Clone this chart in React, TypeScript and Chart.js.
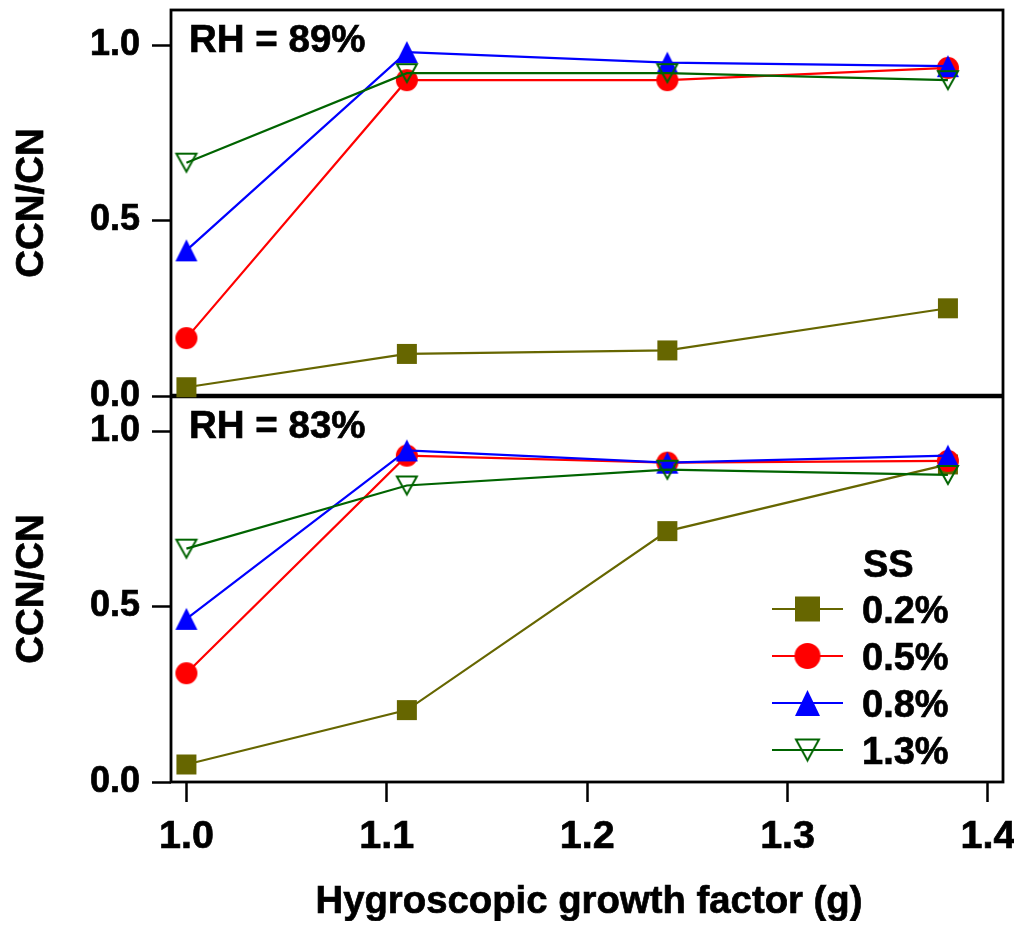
import React, { useEffect, useRef } from 'react';
import { Chart, registerables } from 'chart.js';

Chart.register(...registerables);

// Hygroscopic growth factor of the sampled particles
const growthFactor = [1.0, 1.11, 1.24, 1.38];

// Supersaturation levels
const ssLevels = ['0.2%', '0.5%', '0.8%', '1.3%'];

// CCN/CN activated fraction at RH = 89%
const rh89Ss02 = [0.025, 0.12, 0.13, 0.25];
const rh89Ss05 = [0.165, 0.9, 0.9, 0.935];
const rh89Ss08 = [0.415, 0.98, 0.95, 0.94];
const rh89Ss13 = [0.665, 0.92, 0.92, 0.9];

// CCN/CN activated fraction at RH = 83%
const rh83Ss02 = [0.05, 0.205, 0.715, 0.905];
const rh83Ss05 = [0.31, 0.93, 0.91, 0.915];
const rh83Ss08 = [0.465, 0.945, 0.91, 0.93];
const rh83Ss13 = [0.665, 0.845, 0.89, 0.875];

const panelLabels = ['RH = 89%', 'RH = 83%'];
const xTickValues = [1.0, 1.1, 1.2, 1.3, 1.4];
const yTickValues = [0, 0.5, 1.0];

const X_TITLE = 'Hygroscopic growth factor (g)';
const Y_TITLE = 'CCN/CN';
const LEGEND_TITLE = 'SS';

const W = 1006;
const H = 913;
const FONT = "'Liberation Sans', Arial, Helvetica, sans-serif";
const TEXT_STROKE = 0.7;
const X_TITLE_INK_WIDTH = 544;

const seriesColors = ['#666600', '#ff0000', '#0000ff', '#006400'];
const seriesShapes = ['square', 'circle', 'triangle', 'triangleDown'];

function makeMarker(shape: string, w: number, h: number, color: string): HTMLCanvasElement {
  const pad = 2;
  const c = document.createElement('canvas');
  c.width = w + pad * 2;
  c.height = h + pad * 2;
  const g = c.getContext('2d') as CanvasRenderingContext2D;
  g.translate(pad, pad);
  g.fillStyle = color;
  g.strokeStyle = color;
  g.lineWidth = 2;
  g.lineJoin = 'miter';
  if (shape === 'square') {
    g.fillRect(0, 0, w, h);
  } else if (shape === 'circle') {
    g.beginPath();
    g.ellipse(w / 2, h / 2, w / 2, h / 2, 0, 0, Math.PI * 2);
    g.fill();
  } else if (shape === 'triangle') {
    g.beginPath();
    g.moveTo(w / 2, 0);
    g.lineTo(w, h);
    g.lineTo(0, h);
    g.closePath();
    g.fill();
  } else {
    g.beginPath();
    g.moveTo(1, 1);
    g.lineTo(w - 1, 1);
    g.lineTo(w / 2, h - 1);
    g.closePath();
    g.stroke();
  }
  return c;
}

const chartMarkerSize: Record<string, [number, number]> = {
  square: [20, 20],
  circle: [22, 22],
  triangle: [22, 22],
  triangleDown: [22, 20],
};
const legendMarkerSize: Record<string, [number, number]> = {
  square: [25, 25],
  circle: [26, 26],
  triangle: [25, 26],
  triangleDown: [25, 23],
};

// filled text with a thin outline of the same colour for a heavier weight
function boldText(ctx: CanvasRenderingContext2D, text: string, x: number, y: number) {
  ctx.fillText(text, x, y);
  ctx.lineWidth = TEXT_STROKE;
  ctx.strokeStyle = '#000';
  ctx.strokeText(text, x, y);
}

export default function App() {
  const ref = useRef<HTMLCanvasElement>(null);

  useEffect(() => {
    const canvas = ref.current;
    if (!canvas) return;

    const chartMarkers = seriesShapes.map((s, i) =>
      makeMarker(s, chartMarkerSize[s][0], chartMarkerSize[s][1], seriesColors[i])
    );
    const legendMarkers = seriesShapes.map((s, i) =>
      makeMarker(s, legendMarkerSize[s][0], legendMarkerSize[s][1], seriesColors[i])
    );

    const panels: { axis: string; series: number[][] }[] = [
      { axis: 'yTop', series: [rh89Ss02, rh89Ss05, rh89Ss08, rh89Ss13] },
      { axis: 'yBot', series: [rh83Ss02, rh83Ss05, rh83Ss08, rh83Ss13] },
    ];

    const datasets: any[] = [];
    panels.forEach((p) => {
      p.series.forEach((vals, i) => {
        datasets.push({
          label: ssLevels[i],
          data: growthFactor.map((g, k) => ({ x: g, y: vals[k] })),
          xAxisID: 'x',
          yAxisID: p.axis,
          borderColor: seriesColors[i],
          backgroundColor: seriesColors[i],
          borderWidth: 2.2,
          pointStyle: chartMarkers[i],
          pointRadius: 11,
          pointHoverRadius: 11,
          tension: 0,
          fill: false,
          clip: false,
          order: 4 - i,
        });
      });
    });

    const yScale = () => ({
      type: 'linear',
      position: 'left',
      stack: 'panels',
      stackWeight: 1,
      min: 0,
      max: 1.1,
      afterBuildTicks: (s: any) => {
        s.ticks = yTickValues.map((v) => ({ value: v }));
      },
      ticks: {
        autoSkip: false,
        color: '#000',
        padding: 12,
        textStrokeColor: '#000',
        textStrokeWidth: TEXT_STROKE,
        font: { family: FONT, size: 36, weight: 'bold' },
        callback: (v: any) => Number(v).toFixed(1),
      },
      grid: {
        drawOnChartArea: false,
        drawTicks: true,
        tickLength: 19,
        tickWidth: 2.5,
        tickColor: '#000',
      },
      border: { display: false },
      afterFit: (s: any) => {
        s.width = 163;
        s.paddingTop = 0;
        s.paddingBottom = 0;
      },
    });

    // Panel frames, the divider between the panels
    const framePlugin = {
      id: 'panelFrame',
      beforeDatasetsDraw(chart: any) {
        const { ctx, chartArea: a, scales } = chart;
        ctx.save();
        ctx.strokeStyle = '#000';
        ctx.lineWidth = 2.8;
        ctx.strokeRect(a.left, a.top, a.right - a.left, a.bottom - a.top);
        ctx.lineWidth = 4.5;
        ctx.beginPath();
        ctx.moveTo(a.left, scales.yTop.bottom);
        ctx.lineTo(a.right, scales.yTop.bottom);
        ctx.stroke();
        ctx.restore();
      },
    };

    // Axis titles, x tick labels, panel captions and legend
    const textPlugin = {
      id: 'panelText',
      afterDraw(chart: any) {
        const { ctx, chartArea: a, scales } = chart;
        const xs = scales.x;
        ctx.save();
        ctx.fillStyle = '#000';

        ctx.font = `bold 39.5px ${FONT}`;
        ctx.textAlign = 'center';
        ctx.textBaseline = 'alphabetic';
        xs.ticks.forEach((t: any) => {
          const px = xs.getPixelForValue(t.value);
          boldText(ctx, Number(t.value).toFixed(1), px, a.bottom + 66.3);
        });

        // x title, narrowed slightly to its set ink width
        ctx.font = `bold 39.5px ${FONT}`;
        const m = ctx.measureText(X_TITLE);
        const ink = m.actualBoundingBoxLeft + m.actualBoundingBoxRight;
        const sx = ink > 0 ? Math.min(1, X_TITLE_INK_WIDTH / ink) : 1;
        ctx.save();
        ctx.translate((a.left + a.right) / 2 + 2, a.bottom + 131.3);
        ctx.scale(sx, 1);
        boldText(ctx, X_TITLE, 0, 0);
        ctx.restore();

        ['yTop', 'yBot'].forEach((id, i) => {
          const s = scales[id];
          ctx.font = `bold 38.5px ${FONT}`;
          ctx.save();
          ctx.translate(35.3, (s.top + s.bottom) / 2);
          ctx.rotate(-Math.PI / 2);
          ctx.textAlign = 'center';
          boldText(ctx, Y_TITLE, 0, 0);
          ctx.restore();

          ctx.textAlign = 'left';
          boldText(ctx, panelLabels[i], a.left + 18, s.top + 42);
        });

        // Legend
        const lx0 = a.right - 231;
        const lx1 = a.right - 160;
        const mx = (lx0 + lx1) / 2;
        const tx = a.right - 141;
        const row0 = a.bottom - 173;
        const rowGap = 47;
        ctx.textAlign = 'left';
        ctx.font = `bold 38px ${FONT}`;
        boldText(ctx, LEGEND_TITLE, tx + 1, a.bottom - 205.3);
        ssLevels.forEach((lab, i) => {
          const y = row0 + i * rowGap;
          ctx.strokeStyle = seriesColors[i];
          ctx.lineWidth = 2.2;
          ctx.beginPath();
          ctx.moveTo(lx0, y);
          ctx.lineTo(lx1, y);
          ctx.stroke();
          const mk = legendMarkers[i];
          ctx.drawImage(mk, mx - mk.width / 2, y - mk.height / 2);
          ctx.fillStyle = '#000';
          boldText(ctx, lab, tx, y + 14);
        });
        ctx.restore();
      },
    };

    const chart = new Chart(canvas, {
      type: 'line',
      data: { datasets },
      options: {
        responsive: false,
        animation: false,
        events: [],
        layout: { autoPadding: false, padding: { top: 2, right: 11, left: 0, bottom: 0 } },
        plugins: {
          legend: { display: false },
          tooltip: { enabled: false },
          title: { display: false },
        },
        scales: {
          x: {
            type: 'linear',
            min: 0.9923,
            max: 1.4075,
            afterBuildTicks: (s: any) => {
              s.ticks = xTickValues.map((v) => ({ value: v }));
            },
            ticks: { display: false },
            grid: {
              drawOnChartArea: false,
              drawTicks: true,
              tickLength: 20,
              tickWidth: 2.5,
              tickColor: '#000',
            },
            border: { display: false },
            afterFit: (s: any) => {
              s.height = 139;
              s.paddingLeft = 0;
              s.paddingRight = 0;
            },
          },
          // stacked left axes: the later key is laid out on top
          yBot: yScale(),
          yTop: yScale(),
        } as any,
      },
      plugins: [framePlugin, textPlugin],
    } as any);

    return () => chart.destroy();
  }, []);

  return (
    <div style={{ width: W, height: H }}>
      <canvas ref={ref} width={W} height={H} style={{ display: 'block', width: W, height: H }} />
    </div>
  );
}
